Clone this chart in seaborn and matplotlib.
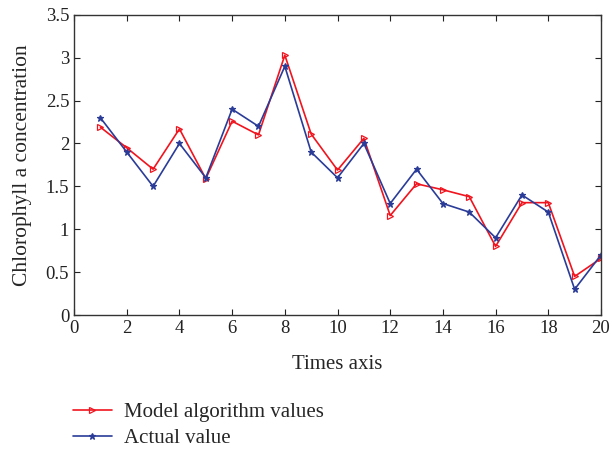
import matplotlib
matplotlib.use("Agg")
import matplotlib.pyplot as plt
import seaborn as sns
import pandas as pd

times = list(range(1, 21))
model_values = [2.19, 1.95, 1.70, 2.17, 1.59, 2.26, 2.10, 3.03, 2.11, 1.69,
                2.06, 1.16, 1.53, 1.46, 1.38, 0.80, 1.31, 1.31, 0.45, 0.66]
actual_values = [2.30, 1.90, 1.50, 2.00, 1.60, 2.40, 2.20, 2.90, 1.90, 1.60,
                 2.00, 1.30, 1.70, 1.30, 1.20, 0.90, 1.40, 1.20, 0.30, 0.70]
series_names = ["Model algorithm values", "Actual value"]
x_ticks = [0, 2, 4, 6, 8, 10, 12, 14, 16, 18, 20]
y_ticks = [0, 0.5, 1, 1.5, 2, 2.5, 3, 3.5]

sns.set_style("ticks")
plt.rcParams["font.family"] = ["Liberation Serif", "DejaVu Serif"]

df = pd.DataFrame({
    "t": times * 2,
    "v": model_values + actual_values,
    "s": [series_names[0]] * 20 + [series_names[1]] * 20,
})

fig = plt.figure(figsize=(6.12, 4.5), dpi=100)
ax = fig.add_axes([0.121, 0.3, 0.861, 0.667])

palette = {series_names[0]: "#f0141e", series_names[1]: "#2a3c98"}
markers = {series_names[0]: ">", series_names[1]: "*"}
for name in series_names:
    sub = df[df["s"] == name]
    sns.lineplot(data=sub, x="t", y="v", ax=ax, color=palette[name],
                 marker=markers[name], markersize=5,
                 markerfacecolor="none" if name == series_names[0] else palette[name],
                 markeredgecolor=palette[name], markeredgewidth=0.9,
                 linewidth=1.2, label=name)

ax.set_xlim(0, 20)
ax.set_ylim(0, 3.5)
ax.set_xticks(x_ticks)
ax.set_yticks(y_ticks)
ax.set_yticklabels(["0", "0.5", "1", "1.5", "2", "2.5", "3", "3.5"])
ax.tick_params(direction="in", top=True, right=True, labelsize=13.5, length=4,
               colors="#222222")
for sp in ax.spines.values():
    sp.set_color("#333333")
    sp.set_linewidth(1.0)
ax.set_xlabel("Times axis", fontsize=15, labelpad=13)
ax.set_ylabel("Chlorophyll a concentration", fontsize=15.5, labelpad=10)

handles, labels = ax.get_legend_handles_labels()
if ax.legend_:
    ax.legend_.remove()
fig.legend(handles, labels, loc="upper left", bbox_to_anchor=(0.105, 0.124),
           frameon=False, fontsize=15, handlelength=1.9, handletextpad=0.55,
           labelspacing=0.3, borderaxespad=0)

fig.savefig("out.png", dpi=100)
